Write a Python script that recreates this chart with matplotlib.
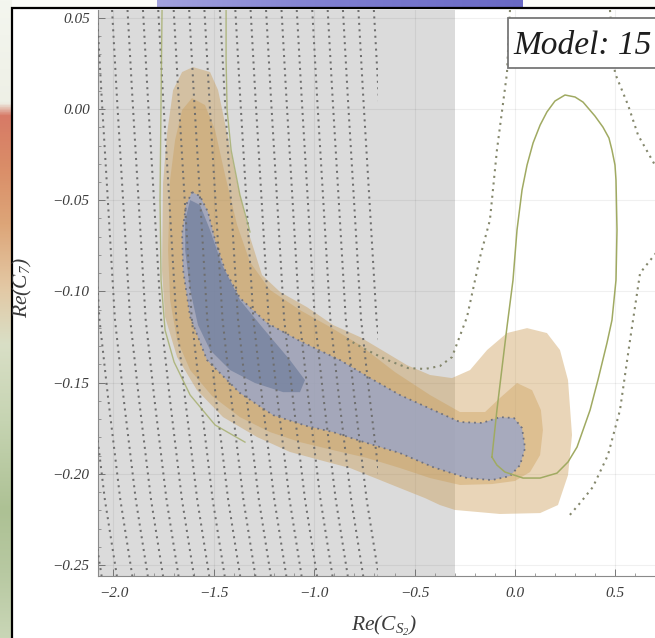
import numpy as np
import matplotlib
matplotlib.use("Agg")
import matplotlib.pyplot as plt
from matplotlib.patches import Rectangle
from matplotlib.colors import LinearSegmentedColormap

plt.rcParams["font.family"] = ["Liberation Serif", "DejaVu Serif"]
plt.rcParams["font.style"] = "italic"
plt.rcParams["mathtext.fontset"] = "custom"
plt.rcParams["mathtext.it"] = "Liberation Serif:italic"
plt.rcParams["mathtext.rm"] = "Liberation Serif:italic"

# ---------------------------------------------------------------- data
x_ticks = [-2.0, -1.5, -1.0, -0.5, 0.0, 0.5]
x_tick_labels = ["\u22122.0", "\u22121.5", "\u22121.0", "\u22120.5", "0.0", "0.5"]
y_ticks = [-0.25, -0.20, -0.15, -0.10, -0.05, 0.00, 0.05]
y_tick_labels = ["\u22120.25", "\u22120.20", "\u22120.15", "\u22120.10",
                 "\u22120.05", "0.00", "0.05"]

excluded_cs2_max = -0.30      # grey excluded band: Re(C_S2) < -0.3
hatch_cs2_max = -0.68         # contour family drawn inside the band

# outer (3 sigma) region
r3_x = [-1.604, -1.519, -1.479, -1.434, -1.384, -1.320, -1.260, -1.170, -1.036,
        -0.906, -0.772, -0.647, -0.538, -0.423, -0.314, -0.224, -0.139, -0.040,
        0.060, 0.159, 0.224, 0.264, 0.284, 0.264, 0.214, 0.125, -0.075, -0.299,
        -0.374, -0.448, -0.573, -0.697, -0.822, -0.936, -1.121, -1.285, -1.454,
        -1.584, -1.683, -1.743, -1.758, -1.753, -1.733, -1.703, -1.658]
r3_y = [0.0230, 0.0203, 0.0104, -0.0132, -0.0406, -0.0702, -0.0910, -0.1003,
        -0.1086, -0.1184, -0.1250, -0.1332, -0.1404, -0.1458, -0.1475, -0.1431,
        -0.1321, -0.1228, -0.1201, -0.1228, -0.1321, -0.1486, -0.1787, -0.2007,
        -0.2171, -0.2215, -0.2220, -0.2198, -0.2171, -0.2133, -0.2078, -0.2023,
        -0.1968, -0.1935, -0.1880, -0.1798, -0.1689, -0.1541, -0.1360, -0.1140,
        -0.0883, -0.0406, -0.0132, 0.0104, 0.0203]

# 2 sigma region
r2_x = [-1.609, -1.544, -1.494, -1.444, -1.384, -1.320, -1.220, -1.071, -0.921,
        -0.772, -0.598, -0.423, -0.274, -0.149, -0.075, 0.010, 0.085, 0.129,
        0.139, 0.125, 0.075, 0.000, -0.115, -0.274, -0.423, -0.573, -0.737,
        -0.906, -1.071, -1.220, -1.370, -1.509, -1.618, -1.683, -1.718, -1.728,
        -1.718, -1.693, -1.658]
r2_y = [0.0060, 0.0022, -0.0115, -0.0362, -0.0636, -0.0839, -0.0992, -0.1102,
        -0.1195, -0.1294, -0.1442, -0.1568, -0.1661, -0.1661, -0.1584, -0.1502,
        -0.1541, -0.1650, -0.1760, -0.1897, -0.1990, -0.2039, -0.2056, -0.2061,
        -0.2023, -0.1968, -0.1913, -0.1870, -0.1826, -0.1771, -0.1689, -0.1573,
        -0.1431, -0.1266, -0.1047, -0.0773, -0.0389, -0.0170, -0.0005]

# 1 sigma region of the second fit
r1_x = [-1.609, -1.569, -1.529, -1.494, -1.444, -1.370, -1.235, -1.071, -0.872,
        -0.722, -0.573, -0.408, -0.274, -0.164, -0.075, -0.005, 0.035, 0.050,
        0.025, -0.025, -0.115, -0.239, -0.408, -0.573, -0.737, -0.906, -1.036,
        -1.205, -1.370, -1.534, -1.618, -1.653, -1.658, -1.638]
r1_y = [-0.0455, -0.0477, -0.0565, -0.0718, -0.0883, -0.1036, -0.1173, -0.1272,
        -0.1376, -0.1475, -0.1568, -0.1650, -0.1716, -0.1721, -0.1689, -0.1694,
        -0.1749, -0.1859, -0.1952, -0.2012, -0.2034, -0.2023, -0.1963, -0.1886,
        -0.1831, -0.1771, -0.1738, -0.1678, -0.1557, -0.1376, -0.1140, -0.0883,
        -0.0680, -0.0526]

# best-fit core
core_x = [-1.618, -1.569, -1.519, -1.459, -1.370, -1.260, -1.121, -1.046, -1.071,
          -1.155, -1.295, -1.419, -1.519, -1.579, -1.618, -1.643, -1.643]
core_y = [-0.0499, -0.0526, -0.0663, -0.0855, -0.1047, -0.1195, -0.1376, -0.1486,
          -0.1552, -0.1552, -0.1502, -0.1431, -0.1321, -0.1184, -0.0992, -0.0773,
          -0.0609]

# dotted contour of the alternative fit (two visible branches)
alt_a_x = [-0.025, -0.040, -0.090, -0.125, -0.174, -0.239, -0.314, -0.374, -0.448,
           -0.533, -0.647, -0.747, -0.847]
alt_a_y = [0.0543, 0.0197, -0.0225, -0.0609, -0.0811, -0.1140, -0.1360, -0.1409,
           -0.1425, -0.1420, -0.1371, -0.1316, -0.1255]
alt_b_x = [0.473, 0.498, 0.563, 0.613, 0.697, 0.782, 0.722, 0.623, 0.573, 0.523,
           0.463, 0.388, 0.324, 0.264]
alt_b_y = [0.0543, 0.0197, 0.0022, -0.0143, -0.0307, -0.0526, -0.0762, -0.0899,
           -0.1266, -0.1650, -0.1897, -0.2072, -0.2160, -0.2237]

# solid constraint contour
loop_x = [-0.115, -0.090, -0.060, -0.040, -0.010, 0.010, 0.035, 0.060, 0.090, 0.125,
          0.159, 0.199, 0.249, 0.299, 0.339, 0.398, 0.438, 0.468, 0.483, 0.498,
          0.503, 0.508, 0.503, 0.483, 0.458, 0.413, 0.374, 0.309, 0.264, 0.209,
          0.125, 0.040, -0.050, -0.090, -0.115]
loop_y = [-0.1908, -0.1650, -0.1376, -0.1195, -0.0938, -0.0663, -0.0444, -0.0307,
          -0.0186, -0.0088, -0.0016, 0.0044, 0.0077, 0.0066, 0.0038, -0.0038,
          -0.0099, -0.0159, -0.0225, -0.0307, -0.0389, -0.0663, -0.0938, -0.1157,
          -0.1283, -0.1486, -0.1650, -0.1853, -0.1935, -0.1996, -0.2023, -0.2023,
          -0.1990, -0.1952, -0.1908]
arm_left_x = [-1.758, -1.763, -1.768, -1.763, -1.743, -1.698, -1.618, -1.494, -1.345]
arm_left_y = [0.0543, 0.0049, -0.0499, -0.0938, -0.1212, -0.1387, -0.1568, -0.1732,
              -0.1826]
arm_right_x = [-1.439, -1.439, -1.434, -1.414, -1.370, -1.320]
arm_right_y = [0.0543, 0.0269, -0.0005, -0.0225, -0.0471, -0.0674]

# family of contour lines inside the excluded band
hatch_top_x = [-2.313, -2.237, -2.160, -2.083, -2.007, -1.930, -1.853, -1.777,
               -1.700, -1.623, -1.547, -1.470, -1.393, -1.317, -1.240, -1.163,
               -1.087, -1.010, -0.933, -0.857, -0.780, -0.703]
hatch_shape_y = [0.0543, 0.005, -0.050, -0.115, -0.159, -0.214, -0.256]
hatch_shape_dx = [0.0, 0.025, 0.055, 0.090, 0.134, 0.194, 0.254]

# ---------------------------------------------------------------- figure
W, H = 655, 638
fig = plt.figure(figsize=(W / 100, H / 100), dpi=100)

# slide backdrop around the framed plot
bg = fig.add_axes([0, 0, 1, 1], zorder=0)
bg.set_xlim(0, W)
bg.set_ylim(H, 0)
bg.axis("off")
bg.add_patch(Rectangle((0, 0), W, H, facecolor="#fbfcf8", edgecolor="none"))
side_cmap = LinearSegmentedColormap.from_list("side", [
    (0.00, "#f4f6ef"), (0.16, "#eef0e6"), (0.18, "#d77a66"), (0.26, "#da8d68"),
    (0.35, "#dda578"), (0.45, "#e3c8a4"), (0.54, "#d9dfc6"), (0.66, "#c6d4b2"),
    (0.80, "#adc194"), (0.90, "#b8c9a2"), (1.00, "#c9d6b6")])
bg.imshow(np.linspace(0, 1, 256)[:, None], cmap=side_cmap, aspect="auto",
          extent=[0, 12, H, 0], zorder=1)
bar_cmap = LinearSegmentedColormap.from_list("bar", ["#a2a2de", "#7d7dd0", "#6868c4"])
bg.imshow(np.linspace(0, 1, 256)[None, :], cmap=bar_cmap, aspect="auto",
          extent=[157, 523, 8, 0], zorder=1)
bg.add_patch(Rectangle((12, 8), 800, 800, facecolor="white", edgecolor="black",
                       linewidth=1.6, zorder=2))

# plot panel
ax = fig.add_axes([98 / W, 62 / H, 572 / W, 566 / H], zorder=1)
ax.patch.set_alpha(0)
x0, x1 = -2.077, 0.772
y0, y1 = -0.256, 0.0543
ax.set_xlim(x0, x1)
ax.set_ylim(y0, y1)

ax.axvspan(x0, excluded_cs2_max, color="#dbdbdb", lw=0, zorder=0.5)
for xv in x_ticks:
    ax.axvline(xv, color="black", alpha=0.06, lw=0.8, zorder=0.8)
for yv in y_ticks:
    ax.axhline(yv, color="black", alpha=0.06, lw=0.8, zorder=0.8)

tan = (200 / 255, 152 / 255, 78 / 255)
ax.fill(r3_x, r3_y, color=tan, alpha=0.40, lw=0, zorder=2)
ax.fill(r2_x, r2_y, color=tan, alpha=0.36, lw=0, zorder=2.1)
ax.fill(r1_x, r1_y, color=(150 / 255, 164 / 255, 205 / 255), alpha=0.75, lw=0, zorder=2.2)
ax.fill(core_x, core_y, color=(89 / 255, 108 / 255, 143 / 255), alpha=0.5, lw=0, zorder=2.3)

dots = (0, (1, 2.2))
ax.plot(r1_x + r1_x[:1], r1_y + r1_y[:1], color="#6f7280", lw=1.3, ls=dots, zorder=3)
ax.plot(alt_a_x, alt_a_y, color="#84876c", lw=1.5, ls=dots, zorder=3)
ax.plot(alt_b_x, alt_b_y, color="#84876c", lw=1.5, ls=dots, zorder=3)

clip = Rectangle((x0, y0), hatch_cs2_max - x0, y1 - y0, transform=ax.transData)
for xt in hatch_top_x:
    ln, = ax.plot(np.add(xt, hatch_shape_dx), hatch_shape_y, color="#6e6e6e",
                  lw=1.45, ls=dots, zorder=3.5)
    ln.set_clip_path(clip)

green = "#a0aa62"
ax.plot(loop_x, loop_y, color=green, lw=1.1, zorder=4)
ax.plot(arm_left_x, arm_left_y, color=green, lw=1.0, alpha=0.75, zorder=4)
ax.plot(arm_right_x, arm_right_y, color=green, lw=1.0, alpha=0.75, zorder=4)

ax.set_xticks(x_ticks)
ax.set_xticklabels(x_tick_labels)
ax.set_yticks(y_ticks)
ax.set_yticklabels(y_tick_labels)
ax.set_xticks(np.arange(-2.0, 0.75, 0.1), minor=True)
ax.set_yticks(np.arange(-0.25, 0.051, 0.01), minor=True)
ax.tick_params(which="major", direction="in", length=5, width=0.6, color="#666666",
               labelsize=11, labelcolor="#3c3c3c")
ax.tick_params(which="minor", direction="in", length=2.5, width=0.5, color="#777777")
ax.tick_params(axis="x", pad=8)
ax.tick_params(axis="y", pad=6)
for side in ("top", "right"):
    ax.spines[side].set_visible(False)
for side in ("left", "bottom"):
    ax.spines[side].set_color("#8a8a8a")
    ax.spines[side].set_linewidth(0.8)

# overlay: legend box and axis titles
ov = fig.add_axes([0, 0, 1, 1], zorder=3)
ov.set_xlim(0, W)
ov.set_ylim(H, 0)
ov.axis("off")
ov.add_patch(Rectangle((508, 18), 220, 50, facecolor="white", edgecolor="#777777",
                       linewidth=1.3))
ov.text(513, 54, "Model: 15", fontsize=24, color="#1e1e1e", va="baseline", ha="left")
ov.text(22, 288, r"$Re(C_7)$", fontsize=15.5, rotation=90, ha="center", va="center",
        color="#3c3c3c")
ov.text(384, 626, r"$Re(C_{S_2})$", fontsize=15.5, ha="center", va="center",
        color="#3c3c3c")

fig.savefig("out.png", dpi=100)
